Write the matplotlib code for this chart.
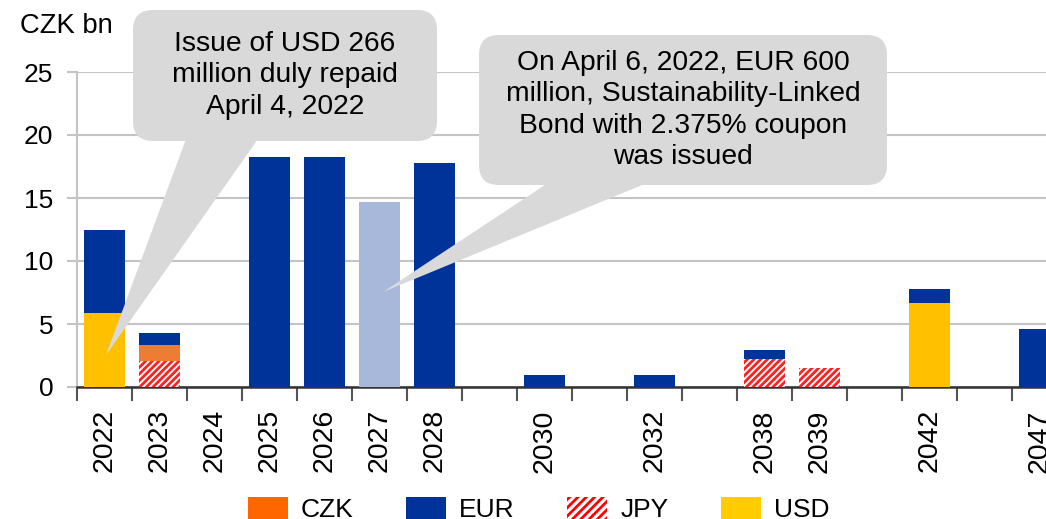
import matplotlib.pyplot as plt
from matplotlib.patches import Patch, FancyBboxPatch, Polygon
import numpy as np

plt.rcParams['font.family'] = ['Liberation Sans', 'DejaVu Sans']
plt.rcParams['hatch.linewidth'] = 2.0

# maturity profile, CZK bn (empty slots are gaps on the axis)
years = ['2022', '2023', '2024', '2025', '2026', '2027', '2028', '', '2030', '',
         '2032', '', '2038', '2039', '', '2042', '', '2047']
usd = [5.9, 0, 0, 0, 0, 0, 0, 0, 0, 0, 0, 0, 0, 0, 0, 6.65, 0, 0]
jpy = [0, 2.1, 0, 0, 0, 0, 0, 0, 0, 0, 0, 0, 2.2, 1.5, 0, 0, 0, 0]
czk = [0, 1.25, 0, 0, 0, 0, 0, 0, 0, 0, 0, 0, 0, 0, 0, 0, 0, 0]
eur = [6.55, 0.95, 0, 18.25, 18.25, 14.7, 17.8, 0, 0.95, 0, 0.95, 0, 0.7, 0, 0, 1.15, 0, 4.6]
new_issue = '2027'

W, H = 1046, 519
fig = plt.figure(figsize=(W / 100, H / 100), dpi=100)
ax = fig.add_axes([77 / W, 1 - 387 / H, 990 / W, 315 / H])

x = np.arange(len(years))
bw = 0.76
usd_c, jpy_c, czk_c, eur_c, eur_new = '#FFC000', '#FF2020', '#EE7D33', '#003399', '#A7B8DB'

b1 = np.array(usd)
b2 = b1 + np.array(jpy)
b3 = b2 + np.array(czk)
ax.bar(x, usd, bw, color=usd_c, zorder=3)
ax.bar(x, jpy, bw, bottom=b1, facecolor='white', edgecolor=jpy_c, hatch='/////',
       linewidth=0, zorder=3)
ax.bar(x, czk, bw, bottom=b2, color=czk_c, zorder=3)
eur_cols = [eur_new if y == new_issue else eur_c for y in years]
ax.bar(x, eur, bw, bottom=b3, color=eur_cols, zorder=3)

ax.set_xlim(-0.5, len(years) - 0.5)
ax.set_ylim(0, 25)
ax.set_yticks([0, 5, 10, 15, 20, 25])
ax.yaxis.grid(True, color='#C4C4C4', linewidth=1.5, zorder=0)
ax.tick_params(axis='y', labelsize=19, length=7, width=1.5, color='#C4C4C4', pad=10)

ax.set_xticks(x, years, rotation=90)
ax.set_xticks(np.arange(len(years) + 1) - 0.5, minor=True)
ax.tick_params(axis='x', which='major', length=0, labelsize=20.5, pad=16)
ax.tick_params(axis='x', which='minor', length=10, width=1.5, color='#555555')

for s in ['top', 'right']:
    ax.spines[s].set_visible(False)
ax.spines['left'].set_color('#C4C4C4')
ax.spines['left'].set_linewidth(1.5)
ax.spines['bottom'].set_color('#333333')
ax.spines['bottom'].set_linewidth(1.8)

fig.text(20 / W, 1 - 26 / H, 'CZK bn', fontsize=19.7, va='center', ha='left')

handles = [Patch(facecolor='#FF6600', label='CZK'),
           Patch(facecolor=eur_c, label='EUR'),
           Patch(facecolor='white', edgecolor='#FF0000', hatch='////', linewidth=0, label='JPY'),
           Patch(facecolor='#FFCC00', label='USD')]
fig.legend(handles=handles, loc='center', bbox_to_anchor=(0.515, 0.018), ncol=4,
           frameon=False, fontsize=19, handlelength=1.5, handleheight=0.9,
           handletextpad=0.5, columnspacing=2.0)

# callouts drawn in pixel coordinates
ov = fig.add_axes([0, 0, 1, 1], zorder=5)
ov.set_xlim(0, W)
ov.set_ylim(H, 0)
ov.axis('off')
grey = '#D9D9D9'

def callout(x0, y0, x1, y1, base, tip, text):
    r = 20
    ov.add_patch(FancyBboxPatch((x0 + r, y0 + r), x1 - x0 - 2 * r, y1 - y0 - 2 * r,
                                boxstyle='round,pad=%d' % r, facecolor=grey,
                                edgecolor='none'))
    ov.add_patch(Polygon([(base[0], y1 - 2), (base[1], y1 - 2), tip],
                         closed=True, facecolor=grey, edgecolor='none'))
    ov.text((x0 + x1) / 2, (y0 + y1) / 2, text, ha='center', va='center',
            fontsize=20.3, linespacing=1.28)

callout(133, 10, 437, 141, (186, 258), (106, 355),
        'Issue of USD 266\nmillion duly repaid\nApril 4, 2022')
callout(479, 35, 887, 185, (548, 647), (383, 292),
        'On April 6, 2022, EUR 600\nmillion, Sustainability-Linked\nBond with 2.375% coupon\nwas issued')

fig.savefig('out.png', dpi=100)
